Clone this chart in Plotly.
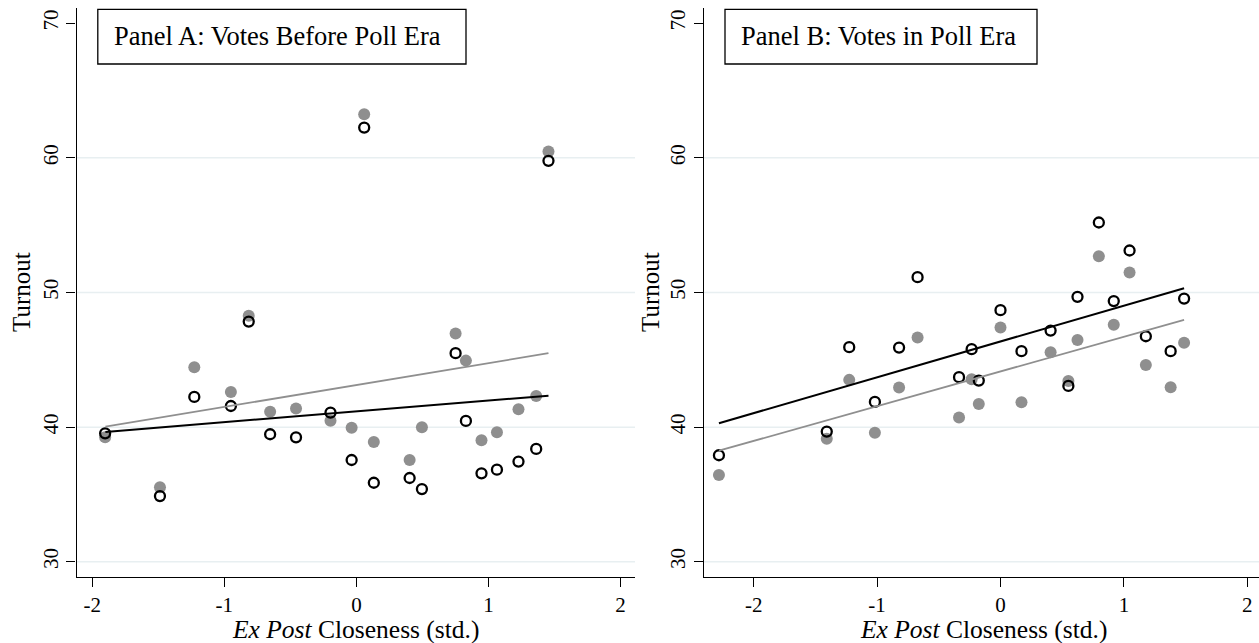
import plotly.graph_objects as go

# ---------------- data ----------------
# Panel A: votes before poll era
a_x = [-1.902, -1.487, -1.227, -0.950, -0.815, -0.653, -0.457, -0.196, -0.036,
       0.059, 0.132, 0.403, 0.496, 0.751, 0.829, 0.947, 1.064, 1.227, 1.361, 1.454]
a_gray = [39.24, 35.53, 44.45, 42.61, 48.27, 41.15, 41.38, 40.48, 39.96,
          63.24, 38.90, 37.56, 39.99, 46.95, 44.94, 39.02, 39.62, 41.33, 42.32, 60.47]
a_black = [39.54, 34.88, 42.24, 41.57, 47.84, 39.47, 39.24, 41.08, 37.56,
           62.25, 35.87, 36.22, 35.40, 45.49, 40.46, 36.57, 36.84, 37.44, 38.38, 59.78]
a_fit_x = [-1.90, 1.454]
a_fit_gray = [40.04, 45.49]
a_fit_black = [39.64, 42.34]

# Panel B: votes in poll era
b_x = [-2.282, -1.408, -1.226, -1.018, -0.822, -0.672, -0.336, -0.234, -0.176, 0.0,
       0.170, 0.406, 0.550, 0.624, 0.797, 0.918, 1.046, 1.178, 1.379, 1.488]
b_gray = [36.44, 39.14, 43.51, 39.59, 42.94, 46.65, 40.71, 43.56, 41.72, 47.40,
          41.85, 45.56, 43.43, 46.48, 52.70, 47.60, 51.49, 44.62, 42.96, 46.26]
b_black = [37.91, 39.67, 45.94, 41.87, 45.91, 51.14, 43.71, 45.79, 43.46, 48.69,
           45.64, 47.17, 43.06, 49.68, 55.20, 49.36, 53.12, 46.75, 45.64, 49.55]
b_fit_x = [-2.282, 1.488]
b_fit_gray = [38.25, 47.97]
b_fit_black = [40.29, 50.32]

x_ticks = [-2, -1, 0, 1, 2]
x_tick_labels = ["-2", "-1", "0", "1", "2"]
y_ticks = [30, 40, 50, 60, 70]
y_tick_labels = ["30", "40", "50", "60", "70"]
grid_vals = [30, 40, 50, 60]
panel_titles = ["Panel A: Votes Before Poll Era", "Panel B: Votes in Poll Era"]
x_title = "<i>Ex Post</i> Closeness (std.)"
y_title = "Turnout"

# ---------------- styling ----------------
FONT = "Liberation Serif"
GRAY = "#8f8f8f"
GRID = "#e8eff1"
W, H = 1259, 643

fig = go.Figure()

def add_panel(xs, gray, black, fx, fg, fb, xa, ya):
    fig.add_trace(go.Scatter(x=xs, y=gray, mode="markers", xaxis=xa, yaxis=ya,
                             marker=dict(color=GRAY, size=12, line=dict(width=0)),
                             showlegend=False, hoverinfo="skip"))
    fig.add_trace(go.Scatter(x=xs, y=black, mode="markers", xaxis=xa, yaxis=ya,
                             marker=dict(symbol="circle-open", color="black", size=10,
                                         line=dict(width=2.3, color="black")),
                             showlegend=False, hoverinfo="skip"))
    fig.add_trace(go.Scatter(x=fx, y=fg, mode="lines", xaxis=xa, yaxis=ya,
                             line=dict(color=GRAY, width=1.8),
                             showlegend=False, hoverinfo="skip"))
    fig.add_trace(go.Scatter(x=fx, y=fb, mode="lines", xaxis=xa, yaxis=ya,
                             line=dict(color="black", width=2),
                             showlegend=False, hoverinfo="skip"))

add_panel(a_x, a_gray, a_black, a_fit_x, a_fit_gray, a_fit_black, "x", "y")
add_panel(b_x, b_gray, b_black, b_fit_x, b_fit_gray, b_fit_black, "x2", "y2")

ydom = [(H - 576.7) / H, (H - 8.3) / H]
xdomA = [76.6 / W, 635 / W]
xdomB = [704 / W, 1.0]

TICKSIZE = 21
xaxis_common = dict(tickvals=x_ticks, ticktext=x_tick_labels,
                    showgrid=False, zeroline=False, showline=True, linecolor="black",
                    linewidth=1.3, ticks="outside", ticklen=9, tickwidth=1.2,
                    tickcolor="black", tickfont=dict(family=FONT, size=TICKSIZE, color="black"),
                    automargin=False)
yaxis_common = dict(tickvals=y_ticks, ticktext=y_tick_labels, range=[28.89, 71.11],
                    showgrid=False, zeroline=False, showline=True, linecolor="black",
                    linewidth=1.3, ticks="outside", ticklen=9, tickwidth=1.2,
                    tickcolor="black", tickangle=-90,
                    tickfont=dict(family=FONT, size=TICKSIZE, color="black"),
                    automargin=False)

fig.update_layout(
    width=W, height=H,
    margin=dict(l=0, r=0, t=0, b=0),
    paper_bgcolor="white", plot_bgcolor="white",
    font=dict(family=FONT, color="black"),
    xaxis=dict(domain=xdomA, range=[-2.118, 2.109], anchor="y", **xaxis_common),
    yaxis=dict(domain=ydom, anchor="x", **yaxis_common),
    xaxis2=dict(domain=xdomB, range=[-2.403, 2.095], anchor="y2", **xaxis_common),
    yaxis2=dict(domain=ydom, anchor="x2", **yaxis_common),
)

shapes = []
for xr, yr in [("x domain", "y"), ("x2 domain", "y2")]:
    for g in grid_vals:
        shapes.append(dict(type="line", xref=xr, yref=yr, x0=0, x1=1, y0=g, y1=g,
                           line=dict(color=GRID, width=1.5), layer="below"))

# panel title boxes
boxes = [(97.8, 466.0), (725.0, 1037.0)]
annotations = []
for (bx0, bx1), title in zip(boxes, panel_titles):
    shapes.append(dict(type="rect", xref="paper", yref="paper",
                       x0=bx0 / W, x1=bx1 / W, y0=(H - 64) / H, y1=(H - 9.3) / H,
                       line=dict(color="black", width=1.3), fillcolor="white", layer="above"))
    annotations.append(dict(text=title, xref="paper", yref="paper",
                            x=(bx0 + 14) / W, y=(H - 36.5) / H, xanchor="left", yanchor="middle",
                            showarrow=False, font=dict(family=FONT, size=26.5, color="black")))

# axis titles
for cx in [(76.6 + 635) / 2, (704 + 1262) / 2]:
    annotations.append(dict(text=x_title, xref="paper", yref="paper",
                            x=cx / W, y=(H - 629) / H, xanchor="center", yanchor="middle",
                            showarrow=False, font=dict(family=FONT, size=25.5, color="black")))
for cx in [21.0, 650.0]:
    annotations.append(dict(text=y_title, xref="paper", yref="paper", textangle=-90,
                            x=cx / W, y=(H - 292) / H, xanchor="center", yanchor="middle",
                            showarrow=False, font=dict(family=FONT, size=25, color="black")))

fig.update_layout(shapes=shapes, annotations=annotations)
fig.write_html("out.html", config={"displayModeBar": False},
               post_script="document.body.style.margin='0';")
